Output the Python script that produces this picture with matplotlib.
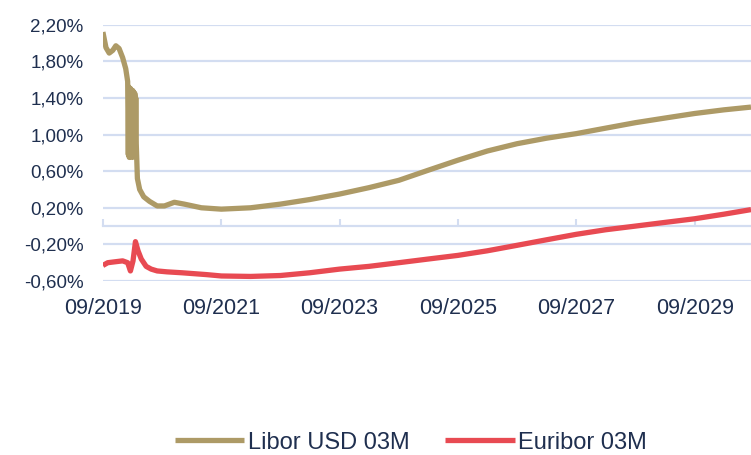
import pandas as pd
import numpy as np
import matplotlib
matplotlib.use("Agg")
import matplotlib.pyplot as plt
import matplotlib.dates as mdates
from matplotlib.ticker import FuncFormatter

# ---- data ----
libor_dates = ['2019-09-01', '2019-09-20', '2019-10-10', '2019-11-01', '2019-11-20',
               '2019-12-10', '2020-01-01', '2020-01-20', '2020-02-01',
               # jagged stretch in Feb/Mar 2020
               '2020-02-05', '2020-02-08', '2020-02-11', '2020-02-14', '2020-02-17',
               '2020-02-20', '2020-02-23', '2020-02-26', '2020-03-01', '2020-03-04',
               '2020-03-07', '2020-03-10', '2020-03-13', '2020-03-16', '2020-03-19',
               '2020-03-22', '2020-03-25',
               '2020-04-01', '2020-04-15', '2020-05-10', '2020-06-15',
               '2020-08-01', '2020-09-15', '2020-11-15', '2021-01-15', '2021-05-01',
               '2021-09-01', '2022-03-01', '2022-09-01', '2023-03-01', '2023-09-01',
               '2024-03-01', '2024-09-01', '2025-03-01', '2025-09-01', '2026-03-01',
               '2026-09-01', '2027-03-01', '2027-09-01', '2028-03-01', '2028-09-01',
               '2029-03-01', '2029-09-01', '2030-03-01', '2030-08-15']
libor_vals = [2.12, 1.95, 1.89, 1.92, 1.97,
              1.94, 1.84, 1.72, 1.58,
              0.78, 1.52, 0.75, 1.50, 0.76,
              1.50, 0.78, 1.48, 0.75, 1.48,
              0.80, 1.46, 0.82, 1.45, 0.85,
              1.40, 0.90,
              0.52, 0.40, 0.32, 0.27,
              0.22, 0.22, 0.26, 0.24, 0.20,
              0.185, 0.20, 0.24, 0.29, 0.35,
              0.42, 0.50, 0.61, 0.72, 0.82,
              0.90, 0.96, 1.01, 1.07, 1.13,
              1.18, 1.23, 1.27, 1.30]

euribor_dates = ['2019-09-01', '2019-10-01', '2019-11-15', '2020-01-01', '2020-02-01',
                 '2020-02-18', '2020-03-05', '2020-03-20', '2020-04-05', '2020-04-25',
                 '2020-05-25', '2020-06-25', '2020-08-01', '2020-10-01', '2021-01-01',
                 '2021-06-01', '2021-09-01', '2022-03-01', '2022-09-01', '2023-03-01',
                 '2023-09-01', '2024-03-01', '2024-09-01', '2025-03-01', '2025-09-01',
                 '2026-03-01', '2026-09-01', '2027-03-01', '2027-09-01', '2028-03-01',
                 '2028-09-01', '2029-03-01', '2029-09-01', '2030-03-01', '2030-08-15']
euribor_vals = [-0.43, -0.40, -0.39, -0.38, -0.40,
                -0.49, -0.38, -0.17, -0.27, -0.36,
                -0.44, -0.47, -0.49, -0.50, -0.51,
                -0.53, -0.545, -0.55, -0.54, -0.51,
                -0.47, -0.44, -0.40, -0.36, -0.32,
                -0.27, -0.21, -0.15, -0.09, -0.04,
                0.00, 0.04, 0.08, 0.13, 0.18]

series_names = ['Libor USD 03M', 'Euribor 03M']
series_colors = ['#ad9a66', '#e84a52']
text_color = '#1f2f4f'
grid_color = '#d3ddf1'

plt.rcParams['font.family'] = ['Liberation Sans', 'DejaVu Sans']

fig = plt.figure(figsize=(7.51, 4.55), dpi=100)
ax = fig.add_axes([0.137, 0.3824, 0.863, 0.5633])

ax.plot(pd.to_datetime(libor_dates), libor_vals, color=series_colors[0], lw=3.8,
        solid_joinstyle='round', solid_capstyle='butt', label=series_names[0], zorder=3)
ax.plot(pd.to_datetime(euribor_dates), euribor_vals, color=series_colors[1], lw=3.8,
        solid_joinstyle='round', solid_capstyle='butt', label=series_names[1], zorder=3)

ax.set_ylim(-0.6, 2.2)
ax.set_yticks(np.arange(-0.6, 2.21, 0.4))
ax.yaxis.set_major_formatter(FuncFormatter(lambda v, p: ('%.2f%%' % v).replace('.', ',')))
ax.set_xlim(pd.Timestamp('2019-09-01'), pd.Timestamp('2030-08-15'))

xticks = pd.to_datetime(['2019-09-01', '2021-09-01', '2023-09-01',
                         '2025-09-01', '2027-09-01', '2029-09-01'])
ax.set_xticks(xticks)
ax.xaxis.set_major_formatter(mdates.DateFormatter('%m/%Y'))

ax.grid(axis='y', color=grid_color, lw=1.6)
ax.set_axisbelow(True)
for s in ax.spines.values():
    s.set_visible(False)
ax.tick_params(axis='y', length=0, pad=14, labelsize=13.5, labelcolor=text_color)
ax.tick_params(axis='x', length=0, pad=12, labelsize=15.5, labelcolor=text_color)

# zero line with upward tick marks
sec = ax.secondary_xaxis(0, transform=ax.transData)
sec.set_xticks(xticks)
sec.tick_params(direction='in', length=5, width=1.5, color=grid_color, labelbottom=False)
sec.spines['bottom'].set_color(grid_color)
sec.spines['bottom'].set_linewidth(1.6)

fig.legend(loc='center', bbox_to_anchor=(0.547, 0.027), ncol=2, frameon=False,
           fontsize=17, labelcolor=text_color, handlelength=2.95, handletextpad=0.15,
           columnspacing=1.5)

fig.savefig('out.png', dpi=100)
